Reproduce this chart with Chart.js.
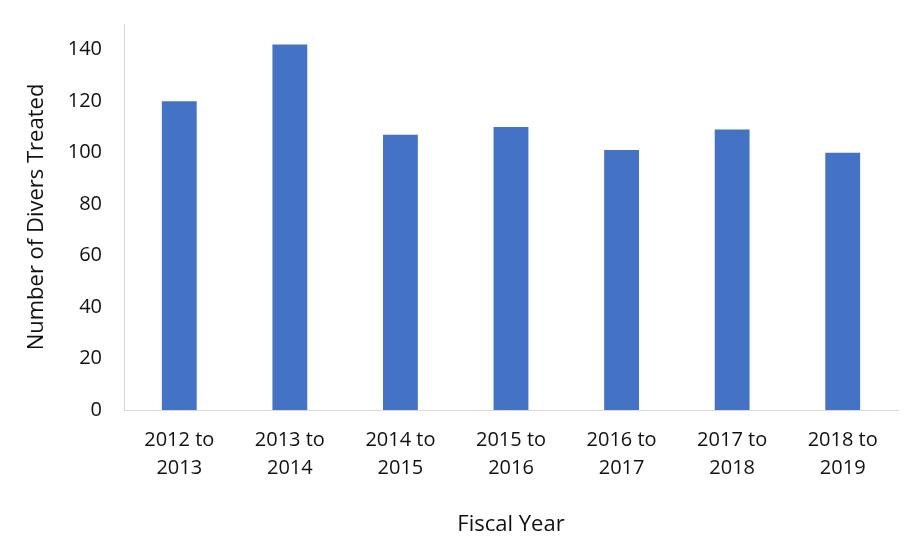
<!DOCTYPE html>
<html>
<head>
<meta charset="utf-8">
<script src="https://cdn.jsdelivr.net/npm/chart.js@4"></script>
<style>
html,body{margin:0;padding:0;background:#fff;}
#wrap{width:924px;height:546px;}
</style>
</head>
<body>
<div id="wrap"><canvas id="c" width="924" height="546"></canvas></div>
<script>
const categories = [["2012 to","2013"],["2013 to","2014"],["2014 to","2015"],["2015 to","2016"],["2016 to","2017"],["2017 to","2018"],["2018 to","2019"]];
const diversTreated = [120, 142, 107, 110, 101, 109, 100];
const yTickValues = [0, 20, 40, 60, 80, 100, 120, 140];
const yAxisTitle = "Number of Divers Treated";
const xAxisTitle = "Fiscal Year";

const FONT = "'Open Sans', sans-serif";
new Chart(document.getElementById('c'), {
  type: 'bar',
  data: {
    labels: categories,
    datasets: [{
      data: diversTreated,
      backgroundColor: '#4472C4',
      borderWidth: 0,
      categoryPercentage: 1.0,
      barPercentage: 0.315
    }]
  },
  options: {
    responsive: false,
    animation: false,
    devicePixelRatio: 1,
    layout: { padding: { top: 24, right: 26, left: 0, bottom: 0 } },
    plugins: { legend: { display: false }, tooltip: { enabled: false } },
    scales: {
      x: {
        grid: { display: false, drawTicks: false },
        border: { display: true, color: '#d9d9d9', width: 1 },
        ticks: { color: '#111', font: { family: FONT, size: 20, lineHeight: 1.4 }, padding: 16, maxRotation: 0, autoSkip: false },
        title: { display: true, text: xAxisTitle, color: '#111', font: { family: FONT, size: 22 }, padding: { top: 0, bottom: 8 } },
        afterFit: s => { s.height = 136; s.paddingLeft = 0; s.paddingRight = 0; }
      },
      y: {
        min: 0, max: 150,
        grid: { display: false, drawTicks: false },
        border: { display: true, color: '#d9d9d9', width: 1 },
        afterBuildTicks: s => { s.ticks = yTickValues.map(v => ({ value: v })); },
        ticks: { color: '#111', font: { family: FONT, size: 20 }, padding: 22 },
        title: { display: true, text: yAxisTitle, color: '#111', font: { family: FONT, size: 22 }, padding: { top: 24, bottom: 0 } },
        afterFit: s => { s.width = 124; s.paddingTop = 0; s.paddingBottom = 0; }
      }
    }
  }
});
</script>
</body>
</html>
